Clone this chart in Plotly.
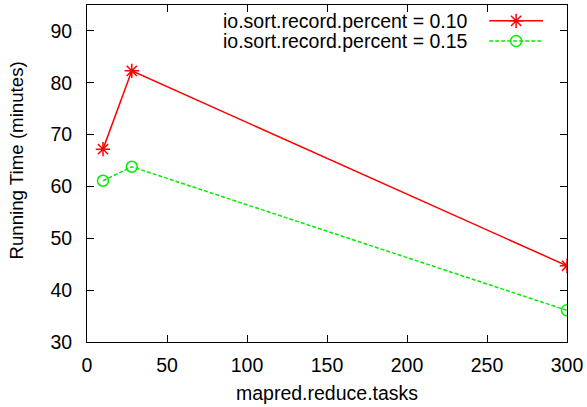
import plotly.graph_objects as go

# Reduce-task counts and measured running times (minutes)
reduce_tasks = [10, 28, 300]
time_pct_010 = [67.2, 82.3, 44.7]
time_pct_015 = [61.1, 63.8, 36.1]

series_names = ["io.sort.record.percent = 0.10", "io.sort.record.percent = 0.15"]
x_ticks = [0, 50, 100, 150, 200, 250, 300]
y_ticks = [30, 40, 50, 60, 70, 80, 90]

RED = "#ff0000"
GREEN = "#00ee00"
FONT = "Liberation Sans, Arial, sans-serif"
TXT = 19.5

fig = go.Figure()
fig.add_trace(go.Scatter(
    x=reduce_tasks, y=time_pct_010, mode="lines+markers", name=series_names[0],
    line=dict(color=RED, width=1.5),
    marker=dict(symbol="asterisk-open", size=12, color=RED, line=dict(color=RED, width=1.5)),
    showlegend=False,
))
fig.add_trace(go.Scatter(
    x=reduce_tasks, y=time_pct_015, mode="lines+markers", name=series_names[1],
    line=dict(color=GREEN, width=1.5, dash="4px,2px"),
    marker=dict(symbol="circle-open", size=11, color=GREEN, line=dict(color=GREEN, width=1.5)),
    showlegend=False,
))

# Key in the gnuplot style: right-aligned label followed by a line sample
key_rows = [
    (series_names[0], RED, "solid", "asterisk-open", 12, 0.953),
    (series_names[1], GREEN, "4px,2px", "circle-open", 11, 0.893),
]
for label, color, dash, symbol, size, yk in key_rows:
    fig.add_trace(go.Scatter(
        x=[0.838, 0.894, 0.95], y=[yk, yk, yk], xaxis="x2", yaxis="y2",
        mode="lines+markers", showlegend=False, hoverinfo="skip",
        line=dict(color=color, width=1.5, dash=dash),
        marker=dict(symbol=symbol, size=size, color=color, line=dict(color=color, width=1.5),
                    opacity=[0, 1, 0]),
    ))
    fig.add_annotation(
        x=0.798, y=yk, xref="x2", yref="y2", text=label, showarrow=False,
        xanchor="right", yanchor="middle", font=dict(family=FONT, size=TXT, color="black"),
    )

# Axis titles
fig.add_annotation(
    x=0.5, y=-0.15, xref="paper", yref="paper", text="mapred.reduce.tasks",
    showarrow=False, xanchor="center", yanchor="middle",
    font=dict(family=FONT, size=TXT, color="black"),
)
fig.add_annotation(
    x=-0.146, y=0.538, xref="paper", yref="paper", text="Running Time (minutes)",
    showarrow=False, xanchor="center", yanchor="middle", textangle=-90,
    font=dict(family=FONT, size=18.7, color="black"),
)

axis_common = dict(
    showgrid=False, zeroline=False, showline=True, linecolor="black", linewidth=1,
    mirror="allticks", ticks="inside", ticklen=7, tickcolor="black", tickwidth=1,
    tickfont=dict(family=FONT, size=TXT, color="black"),
)
fig.update_layout(
    width=587, height=407,
    margin=dict(l=87, r=20, t=5, b=64.5),
    paper_bgcolor="white", plot_bgcolor="white",
    font=dict(family=FONT, size=TXT, color="black"),
    xaxis=dict(range=[0, 300], tickvals=x_ticks, ticklabelstandoff=6, **axis_common),
    yaxis=dict(range=[30, 95], tickvals=y_ticks, ticklabelstandoff=10, **axis_common),
    xaxis2=dict(overlaying="x", range=[0, 1], visible=False, anchor="y2"),
    yaxis2=dict(overlaying="y", range=[0, 1], visible=False, anchor="x2"),
)

fig.write_html("out.html")
